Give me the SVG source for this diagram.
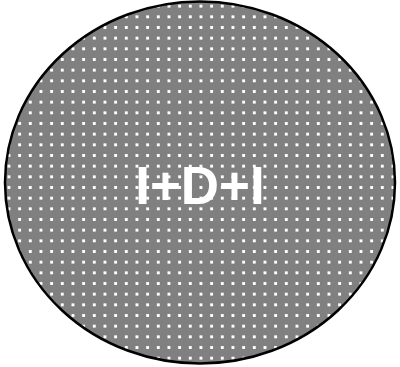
<svg xmlns="http://www.w3.org/2000/svg" width="400" height="367" viewBox="0 0 400 367">
<defs>
<pattern id="dots" patternUnits="userSpaceOnUse" x="7.5" y="4.7" width="10.667" height="10.667">
<rect width="10.667" height="10.667" fill="#808080"/>
<rect x="0" y="0" width="3" height="3" fill="#ffffff" shape-rendering="crispEdges"/>
</pattern>
<style>
.lbl{font-family:"Liberation Sans",Arial,sans-serif;font-weight:bold;font-size:53px;fill:#ffffff;text-anchor:middle}
</style>
</defs>
<g id="node1">
<ellipse cx="200" cy="182.5" rx="195" ry="181" fill="url(#dots)" stroke="#000000" stroke-width="2.5"/>
<text class="lbl" x="200" y="204">I+D+I</text>
</g>
</svg>
